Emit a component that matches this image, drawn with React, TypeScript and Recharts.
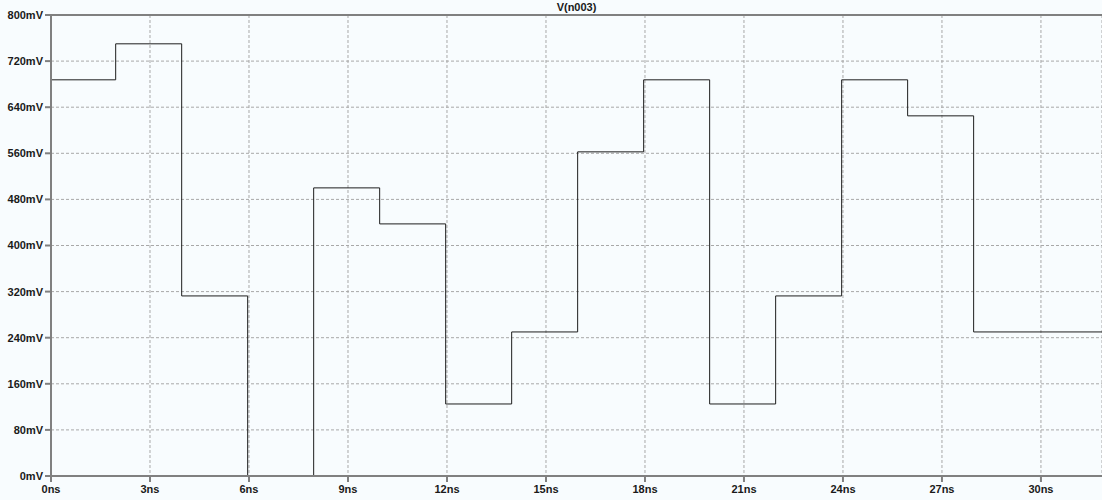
import { LineChart, Line, XAxis, YAxis, CartesianGrid, ReferenceLine } from 'recharts';

// switching instants (ns) and the node voltage (mV) held after each one
const times = [0, 1.96, 3.96, 5.96, 7.96, 9.96, 11.96, 13.96, 15.96, 17.96, 19.96, 21.96, 23.96, 25.96, 27.96, 31.85];
const levels = [687.5, 750, 312.5, 0, 500, 437.5, 125, 250, 562.5, 687.5, 125, 312.5, 687.5, 625, 250, 250];

const xTicks = [0, 3, 6, 9, 12, 15, 18, 21, 24, 27, 30];
const yTicks = [0, 80, 160, 240, 320, 400, 480, 560, 640, 720, 800];

const data = times.map((t, i) => ({ t, v: levels[i] }));

const FONT = '"Liberation Sans", Arial, sans-serif';
const tickStyle = { fontFamily: FONT, fontSize: 11, fontWeight: 700, fill: '#1a1a1a' };

export default function App() {
  return (
    <div style={{ position: 'fixed', left: 0, top: 0, width: 1102, height: 500, background: '#f8fcfe' }}>
      <div
        style={{
          position: 'absolute',
          left: 51,
          width: 1051,
          top: 1,
          textAlign: 'center',
          fontFamily: FONT,
          fontSize: 11,
          fontWeight: 700,
          color: '#1a1a1a',
        }}
      >
        V(n003)
      </div>
      <LineChart width={1102} height={500} data={data} margin={{ top: 15, right: 0, bottom: 0, left: 0 }}>
        <CartesianGrid stroke="#a8a8a8" strokeDasharray="3 2" ticks={undefined} />
        <XAxis
          dataKey="t"
          type="number"
          domain={[0, 31.85]}
          ticks={xTicks}
          tickFormatter={(v: number) => `${v}ns`}
          height={24}
          tickSize={6}
          tickMargin={3}
          stroke="#808080"
          strokeWidth={2}
          tick={tickStyle}
          allowDataOverflow
        />
        <YAxis
          type="number"
          domain={[0, 800]}
          ticks={yTicks}
          tickFormatter={(v: number) => `${v}mV`}
          width={51}
          tickSize={6}
          tickMargin={2}
          stroke="#808080"
          strokeWidth={2}
          tick={tickStyle}
          interval={0}
        />
        <ReferenceLine y={800} stroke="#808080" strokeWidth={2} />
        <Line
          dataKey="v"
          type="stepAfter"
          stroke="#1e1e1e"
          strokeWidth={1}
          dot={false}
          isAnimationActive={false}
        />
      </LineChart>
    </div>
  );
}
